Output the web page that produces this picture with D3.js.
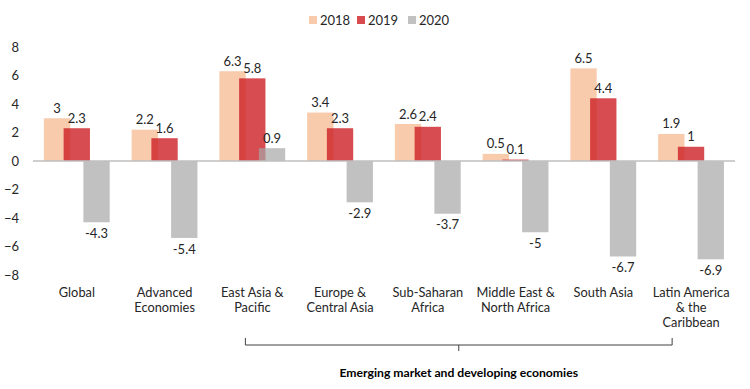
<!DOCTYPE html>
<html>
<head>
<meta charset="utf-8">
<script src="https://cdn.jsdelivr.net/npm/d3@7"></script>
<style>
  body { margin: 0; background: #fff; }
  svg { font-family: "Lato", "Open Sans", sans-serif; }
</style>
</head>
<body>
<svg id="chart" width="750" height="389"></svg>
<script>
// chart data
var categories = ['Global', 'Advanced Economies', 'East Asia & Pacific', 'Europe & Central Asia',
    'Sub-Saharan Africa', 'Middle East & North Africa', 'South Asia', 'Latin America & the Caribbean'];
var categoryLines = [['Global'], ['Advanced', 'Economies'], ['East Asia &', 'Pacific'], ['Europe &', 'Central Asia'],
    ['Sub-Saharan', 'Africa'], ['Middle East &', 'North Africa'], ['South Asia'], ['Latin America', '& the', 'Caribbean']];
var years = ['2018', '2019', '2020'];
var values2018 = [3, 2.2, 6.3, 3.4, 2.6, 0.5, 6.5, 1.9];
var values2019 = [2.3, 1.6, 5.8, 2.3, 2.4, 0.1, 4.4, 1];
var values2020 = [-4.3, -5.4, 0.9, -2.9, -3.7, -5, -6.7, -6.9];
var yTicks = [-8, -6, -4, -2, 0, 2, 4, 6, 8];
var groupTitle = 'Emerging market and developing economies';

var series = [values2018, values2019, values2020];
var colors = ['#f8cbad', '#cc1f24', '#a6a6a6'];
var opac = [1, 0.8, 0.7];

var svg = d3.select('#chart');
var textColor = '#262626';

var x = d3.scaleBand().domain(categories).range([33, 735]).padding(0);
var y = d3.scaleLinear().domain([-8, 8]).range([275, 47]);

var bw = x.bandwidth();
var barW = bw * 0.30;
// bars overlap a little, like the original
var xs = d3.scalePoint().domain(years).range([-0.376 * bw, 0.074 * bw]);

// y axis labels only
var yAxis = d3.axisLeft(y).tickValues(yTicks).tickSize(0).tickPadding(0).tickFormat(d3.format('d'));
var gy = svg.append('g')
    .attr('transform', 'translate(19,0)')
    .call(yAxis);
gy.select('.domain').remove();
gy.selectAll('text')
    .attr('fill', textColor)
    .style('font-size', '13px')
    .style('font-family', 'Lato, sans-serif');

// bars
years.forEach(function (yr, i) {
    svg.append('g').selectAll('rect')
        .data(series[i])
        .enter()
        .append('rect')
        .attr('x', function (d, j) { return x.bandwidth() / 2 + x(categories[j]) + xs(yr); })
        .attr('y', function (d) { return y(Math.max(0, d)); })
        .attr('width', barW)
        .attr('height', function (d) { return Math.abs(y(d) - y(0)); })
        .attr('fill', colors[i])
        .attr('fill-opacity', opac[i]);
});

// zero line
svg.append('line')
    .attr('x1', x.range()[0]).attr('x2', x.range()[1])
    .attr('y1', y(0)).attr('y2', y(0))
    .attr('stroke', '#bfbfbf')
    .attr('stroke-width', 1.5);

// data labels
years.forEach(function (yr, i) {
    svg.append('g').selectAll('text')
        .data(series[i])
        .enter()
        .append('text')
        .attr('x', function (d, j) { return x(categories[j]) + bw / 2 + xs(yr) + barW / 2; })
        .attr('y', function (d) { return d >= 0 ? y(d) - 10 : y(d) + 11; })
        .attr('dy', '0.35em')
        .attr('text-anchor', 'middle')
        .attr('fill', textColor)
        .style('font-size', '13px')
        .text(function (d) { return d; });
});

// category labels
var cat = svg.append('g').selectAll('text')
    .data(categories)
    .enter()
    .append('text')
    .attr('x', function (d) { return x(d) + bw / 2; })
    .attr('y', 293)
    .attr('text-anchor', 'middle')
    .attr('fill', textColor)
    .style('font-size', '12.8px');
cat.each(function (d, i) {
    var t = d3.select(this);
    categoryLines[i].forEach(function (line, k) {
        t.append('tspan')
            .attr('x', x(d) + bw / 2)
            .attr('y', 293 + k * 15)
            .attr('dy', '0.35em')
            .text(line);
    });
});

// bracket under emerging markets
var bx1 = x(categories[2]) + bw / 2 - 7,
    bx2 = x(categories[7]) + bw / 2 - 19,
    bmid = (bx1 + bx2) / 2;
svg.append('path')
    .attr('d', 'M' + bx1 + ',338 L' + bx1 + ',345 L' + bx2 + ',345 L' + bx2 + ',338 M' + bmid + ',345 L' + bmid + ',351')
    .attr('fill', 'none')
    .attr('stroke', '#404040')
    .attr('stroke-width', 1);

svg.append('text')
    .attr('x', bmid)
    .attr('y', 373)
    .attr('dy', '0.35em')
    .attr('text-anchor', 'middle')
    .attr('fill', '#000')
    .style('font-size', '12.2px')
    .style('font-weight', 'bold')
    .text(groupTitle);

// legend
var legend = svg.append('g').attr('transform', 'translate(309,20)');
var legX = [0, 48, 99];
years.forEach(function (yr, i) {
    var g = legend.append('g').attr('transform', 'translate(' + legX[i] + ',0)');
    g.append('rect')
        .attr('x', 0).attr('y', -4)
        .attr('width', 8).attr('height', 8)
        .attr('fill', colors[i])
        .attr('fill-opacity', opac[i]);
    g.append('text')
        .attr('x', 11)
        .attr('dy', '0.35em')
        .attr('fill', textColor)
        .style('font-size', '13px')
        .text(yr);
});
</script>
</body>
</html>
